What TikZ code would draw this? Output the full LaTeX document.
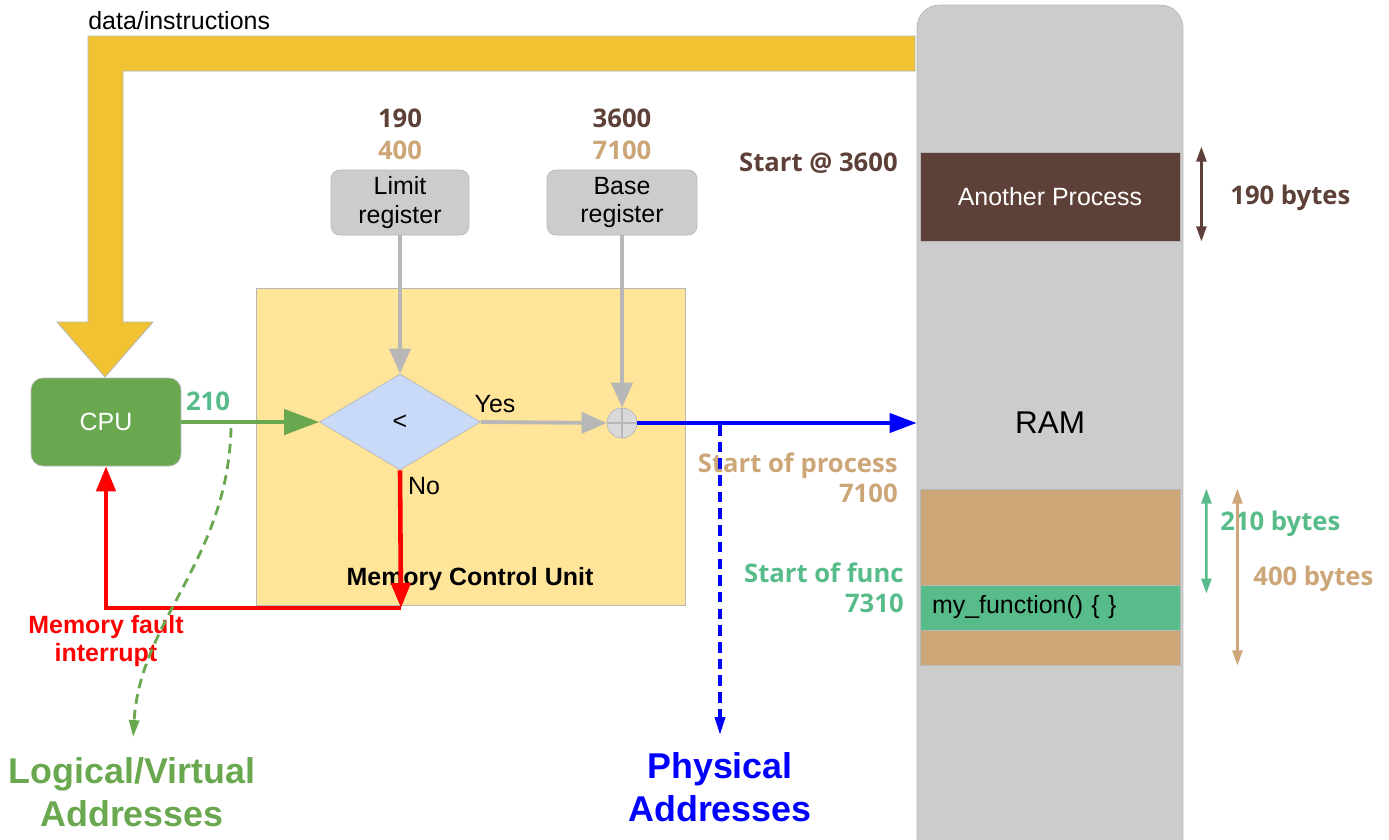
\documentclass[tikz,border=0pt]{standalone}
\usepackage{fontspec}
\setmainfont{Liberation Sans}
\newfontfamily\opensans{Open Sans}
\usetikzlibrary{arrows.meta,shapes.geometric}
\definecolor{busyellow}{HTML}{F1C232}
\definecolor{mcuyellow}{HTML}{FFE599}
\definecolor{cpugreen}{HTML}{6AA84F}
\definecolor{funcgreen}{HTML}{57BB8A}
\definecolor{procbrown}{HTML}{5D4037}
\definecolor{proctan}{HTML}{CCA677}
\definecolor{reggray}{HTML}{CCCCCC}
\definecolor{sumgray}{HTML}{D9D9D9}
\definecolor{edgegray}{HTML}{B7B7B7}
\definecolor{cmpblue}{HTML}{C9DAF8}
\def\busarrow{(88,36) -- (915,36) -- (915,71) -- (123,71) -- (123,322) -- (153,322) -- (105,377) -- (57,322) -- (88,322) -- cycle}
\tikzset{
    txt/.style={font=\fontsize{14.2}{16.4}\selectfont},
    boldtxt/.style={font=\bfseries\fontsize{14.2}{16.4}\selectfont},
    numtxt/.style={font=\opensans\bfseries\fontsize{14.6}{16.8}\selectfont, inner sep=0pt},
    bigtxt/.style={font=\bfseries\fontsize{20.4}{24.4}\selectfont, align=center, inner sep=0pt},
    regbox/.style={draw=edgegray, fill=reggray, rounded corners=5pt, minimum height=1.3cm, align=center, inner sep=0pt, txt},
    memblock/.style={draw=edgegray, line width=0.5pt, minimum width=5.2cm, inner sep=0pt, txt},
    graypipe/.style={draw=edgegray, line width=2.2pt, -{Triangle[length=0.5cm,width=0.42cm]}},
    sizearrow/.style={line width=1.4pt, {Triangle[length=0.3cm,width=0.2cm]}-{Triangle[length=0.3cm,width=0.2cm]}},
}
\begin{document}
\begin{tikzpicture}[x=0.02cm, y=-0.02cm]
    \useasboundingbox (0,0) rectangle (1389,839);
    \filldraw[fill=busyellow, draw=edgegray, line width=0.5pt] \busarrow;
    \node[txt, anchor=base west, inner sep=0pt] (buslabel) at (88,29) {data/instructions};

    \node[draw=edgegray, fill=reggray, rounded corners=0.45cm, minimum width=5.32cm, minimum height=17.1cm] (ram) at (1050,432.5) {};
    \node[font=\fontsize{17.9}{20}\selectfont] (ramlabel) at (1050,423) {RAM};
    \node[memblock, fill=procbrown, text=white, minimum height=1.78cm] (other) at (1050,196.5) {Another Process};
    \node[memblock, fill=proctan, minimum height=3.52cm] (proc) at (1050,577) {};
    \node[memblock, fill=funcgreen, minimum height=0.9cm, text width=4.72cm, inner xsep=0.24cm, align=left] (func) at (1050,607.5) {my\_function() \{ \}};

    \node[numtxt, text=procbrown, anchor=base east] (otherstart) at (898,171) {Start @ 3600};
    \node[numtxt, text=proctan, anchor=east, align=right] (procstart) at (898,478) {Start of process\\7100};
    \node[numtxt, text=funcgreen, anchor=east, align=right] (funcstart) at (904,588) {Start of func\\7310};
    \draw[sizearrow, procbrown] ([shift={(0.42cm,0.1cm)}]other.north east) -- ([xshift=0.42cm]other.south east);
    \node[numtxt, text=procbrown, anchor=west] (othersize) at (1230,198) {190 bytes};
    \draw[sizearrow, funcgreen] ([xshift=0.52cm]proc.north east) -- ([shift={(0.52cm,-0.18cm)}]func.north east);
    \node[numtxt, text=funcgreen, anchor=west] (funcsize) at (1220,524) {210 bytes};
    \draw[sizearrow, proctan] ([xshift=1.14cm]proc.north east) -- ([xshift=1.14cm]proc.south east);
    \node[numtxt, text=proctan, anchor=west] (procsize) at (1253,579) {400 bytes};

    \node[draw=edgegray, fill=mcuyellow, minimum width=8.58cm, minimum height=6.34cm] (mcu) at (470.5,446.5) {};
    \node[boldtxt] (mcutitle) at (470,579) {Memory Control Unit};

    \node[regbox, minimum width=2.76cm] (limit) at (400,202.5) {Limit\\register};
    \node[numtxt, text=procbrown] (limitold) at (400,118) {190};
    \node[numtxt, text=proctan] (limitnew) at (400,150) {400};
    \node[regbox, minimum width=3cm] (base) at (622,202.5) {Base\\register};
    \node[numtxt, text=procbrown] (baseold) at (622,118) {3600};
    \node[numtxt, text=proctan] (basenew) at (622,150) {7100};

    \node[diamond, draw=edgegray, fill=cmpblue, minimum width=3.22cm, minimum height=1.92cm, inner sep=0pt, txt] (cmp) at (400,422) {<};
    \node[circle, draw=edgegray, fill=sumgray, minimum size=0.6cm, inner sep=0pt] (sum) at (622,423) {};
    \draw[edgegray, line width=0.7pt] (sum.north) -- (sum.south) (sum.west) -- (sum.east);
    \draw[graypipe] (limit) -- (cmp.north);
    \draw[graypipe] (base) -- (sum.north);
    \draw[graypipe] (cmp.east) -- (sum.west);
    \node[txt] (yes) at (495,404) {Yes};
    \node[txt] (no) at (424,486) {No};

    \node[draw=edgegray, fill=cpugreen, text=white, rounded corners=0.24cm, minimum width=3cm, minimum height=1.76cm, txt] (cpu) at (106,422) {CPU};
    \draw[cpugreen, line width=2.6pt, -{Triangle[length=0.7cm,width=0.5cm]}] (cpu.east) -- (cmp.west);
    \node[numtxt, text=funcgreen] (logicalvalue) at (208,401) {210};

    \coordinate (fault) at (401,608);
    \draw[red, line width=2.6pt, -{Triangle[length=0.5cm,width=0.38cm]}] (cmp.south) -- (fault);
    \draw[red, line width=2.6pt, -{Triangle[length=0.5cm,width=0.38cm]}] (fault) -| (cpu.south);
    \node[boldtxt, text=red, align=center] (faultlabel) at (106,641) {Memory fault\\interrupt};

    \node[bigtxt, text=cpugreen] (logical) at (132,792) {Logical/Virtual\\Addresses};
    \coordinate (logicaltap) at (231,428);
    \draw[cpugreen, line width=1.6pt, dash pattern=on 5.5pt off 3.5pt, shorten >=0.4cm, -{Triangle[length=0.34cm,width=0.2cm]}] (logicaltap) .. controls (228,560) and (140,620) .. (logical.north);

    \draw[blue, line width=2.3pt, -{Triangle[length=0.54cm,width=0.38cm]}] (sum.east) -- (sum.east -| ram.west);
    \node[bigtxt, text=blue] (physical) at (720,787) {Physical\\Addresses};
    \coordinate (physicaltap) at (720,425);
    \draw[blue, line width=1.9pt, dash pattern=on 6pt off 3.5pt, shorten >=0.34cm, -{Triangle[length=0.36cm,width=0.2cm]}] (physicaltap) -- (physical.north);
\end{tikzpicture}
\end{document}
